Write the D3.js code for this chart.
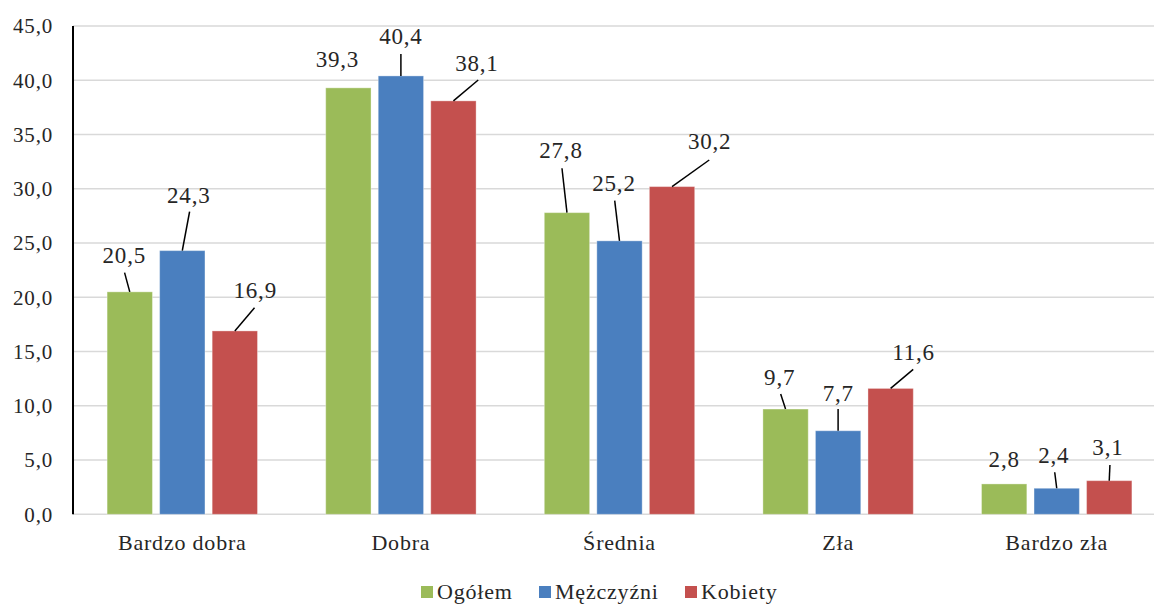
<!DOCTYPE html>
<html>
<head>
<meta charset="utf-8">
<script src="https://cdn.jsdelivr.net/npm/d3@7"></script>
<style>
  html, body { margin: 0; padding: 0; background: #fff; }
  svg text { font-family: "Liberation Serif", "DejaVu Serif" !important; fill: #262626; }
</style>
</head>
<body>
<svg id="chart" width="1154" height="606"></svg>
<script>
// ---- data ----
const categories = ["Bardzo dobra", "Dobra", "Średnia", "Zła", "Bardzo zła"];
const seriesNames = ["Ogółem", "Mężczyźni", "Kobiety"];
const ogolem = [20.5, 39.3, 27.8, 9.7, 2.8];
const mezczyzni = [24.3, 40.4, 25.2, 7.7, 2.4];
const kobiety = [16.9, 38.1, 30.2, 11.6, 3.1];
const yTicks = [0, 5, 10, 15, 20, 25, 30, 35, 40, 45];

// ---- layout (label offsets from bar top centre, px) ----
const labelOffsets = [
  // Ogółem
  [[-5.5, -29, -5.2, -19.2], [-11, -21, null, null], [-6, -54.4, -5, -44.4], [-5.9, -24.1, -4.9, -15.1], [0, -17.2, null, null]],
  // Mężczyźni
  [[6.5, -47.6, 7.3, -38.9], [0, -32, 0, -22], [-5.5, -50.2, -4.8, -40.2], [0.2, -29.8, 0, -21.8], [-2.9, -25.6, -2, -16]],
  // Kobiety
  [[20.4, -33, 19.7, -23.2], [23.5, -30.2, 24.8, -20.9], [37.6, -37.3, 37.2, -26.6], [23, -28.4, 22.6, -19], [-1.3, -25.7, 0.7, -15.7]]
];
const colors = ["#9BBB59", "#4A7FBF", "#C4504E"];

const svg = d3.select("#chart");
const mLeft = 73, mRight = 1166, mTop = 26, mBottom = 514.3;

const x0 = d3.scaleBand().domain(categories).range([mLeft, mRight]).paddingInner(0.312).paddingOuter(0.156);
const x1 = d3.scaleBand().domain(seriesNames).range([0, x0.bandwidth()]).paddingInner(0.137).paddingOuter(0);
const y = d3.scaleLinear().domain([0, 45]).range([mBottom, mTop]);

const fmt = v => d3.format(".1f")(v).replace(".", ",");

// gridlines
svg.append("g").selectAll("line").data(yTicks).join("line")
  .attr("x1", mLeft).attr("x2", mRight)
  .attr("y1", d => y(d)).attr("y2", d => y(d))
  .attr("stroke", "#d9d9d9").attr("stroke-width", 1.5);

// y axis
const yAxis = d3.axisLeft(y).tickValues(yTicks).tickFormat(fmt).tickSize(0).tickPadding(20);
const gy = svg.append("g").attr("transform", `translate(${mLeft},0)`).call(yAxis);
gy.attr("font-family", null).attr("font-size", null);
gy.select(".domain").remove();
gy.selectAll("text").style("font-size", "21px").attr("letter-spacing", 0.8)
  .attr("fill", "#262626").attr("dy", "0.33em");
svg.append("line").attr("x1", mLeft).attr("x2", mLeft).attr("y1", mTop).attr("y2", mBottom)
  .attr("stroke", "#000").attr("stroke-width", 2);

// x axis labels
const xAxis = d3.axisBottom(x0).tickSize(0).tickPadding(20);
const gx = svg.append("g").attr("transform", `translate(0,${mBottom})`).call(xAxis);
gx.attr("font-family", null).attr("font-size", null);
gx.select(".domain").remove();
gx.selectAll("text").style("font-size", "22px").attr("letter-spacing", 0.8)
  .attr("fill", "#262626");

// bars
const allSeries = [ogolem, mezczyzni, kobiety];
const rows = [];
allSeries.forEach((vals, si) => vals.forEach((v, ci) => rows.push({ si, ci, v })));

svg.append("g").selectAll("rect").data(rows).join("rect")
  .attr("x", d => x0(categories[d.ci]) + x1(seriesNames[d.si]))
  .attr("width", x1.bandwidth())
  .attr("y", d => y(d.v))
  .attr("height", d => y(0) - y(d.v))
  .attr("fill", d => colors[d.si])
  .attr("stroke", "rgba(255,255,255,0.35)").attr("stroke-width", 1);

// labels and leader lines
const lg = svg.append("g");
rows.forEach(d => {
  const cx = x0(categories[d.ci]) + x1(seriesNames[d.si]) + x1.bandwidth() / 2;
  const ty = y(d.v);
  const o = labelOffsets[d.si][d.ci];
  if (o[2] !== null) {
    lg.append("line").attr("x1", cx + o[2]).attr("y1", ty + o[3]).attr("x2", cx).attr("y2", ty)
      .attr("stroke", "#000").attr("stroke-width", 1.5);
  }
  lg.append("text").attr("x", cx + o[0]).attr("y", ty + o[1])
    .attr("text-anchor", "middle").style("font-size", "23px").attr("letter-spacing", 0.8)
    .text(fmt(d.v));
});

// legend
const legendX = [421, 539, 685];
const leg = svg.append("g");
seriesNames.forEach((n, i) => {
  leg.append("rect").attr("x", legendX[i]).attr("y", 586).attr("width", 12).attr("height", 12).attr("fill", colors[i]);
  leg.append("text").attr("x", legendX[i] + 16).attr("y", 599).style("font-size", "22px").attr("letter-spacing", 0.8).text(n);
});
</script>
</body>
</html>
